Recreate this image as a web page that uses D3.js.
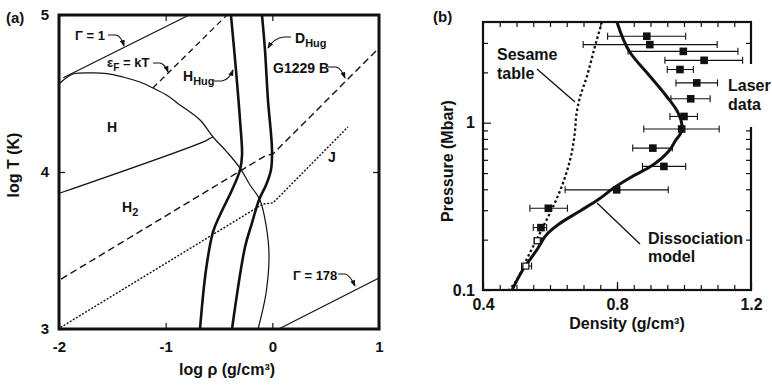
<!DOCTYPE html>
<html>
<head>
<meta charset="utf-8">
<script src="https://cdn.jsdelivr.net/npm/d3@7"></script>
<style>
  body { margin: 0; background: #fff; }
  text { font-family: "Liberation Sans", Arial, Helvetica, sans-serif; font-weight: bold; fill: #111; }
</style>
</head>
<body>
<svg id="fig" width="772" height="386"></svg>
<script>
// ---- panel (a): log rho (g/cm3) vs log T (K) ----
var gamma1   = [[-1.96, 4.60], [-0.78, 5.0]];
var gamma178 = [[0.06, 3.0], [1.0, 3.325]];
var fermi    = [[-1.12, 4.535], [-0.425, 5.0]];
var dissocH  = [[-1.99, 4.567], [-1.934, 4.599], [-1.869, 4.624], [-1.709, 4.631], [-1.55, 4.627],
                [-1.40, 4.605], [-1.241, 4.573], [-1.119, 4.535], [-0.978, 4.484], [-0.866, 4.427],
                [-0.678, 4.331], [-0.556, 4.223], [-0.425, 4.127], [-0.303, 4.025], [-0.209, 3.917],
                [-0.116, 3.822], [-0.059, 3.662], [-0.031, 3.471], [-0.059, 3.229], [-0.134, 3.0]];
var h2Line   = [[-1.99, 3.866], [-0.62, 4.20], [-0.585, 4.215], [-0.556, 4.223]];
var g1229b   = [[-1.98, 3.318], [-0.069, 4.102], [0.006, 4.115], [0.981, 4.777]];
var modelJ   = [[-1.985, 3.01], [-0.088, 3.796], [0.006, 3.803], [0.709, 4.287]];
var hHug     = [[-0.388, 5.0], [-0.341, 4.65], [-0.303, 4.331], [-0.284, 4.108], [-0.303, 4.013],
                [-0.378, 3.885], [-0.491, 3.726], [-0.556, 3.618], [-0.622, 3.376], [-0.678, 3.0]];
var dHug     = [[-0.097, 5.0], [-0.069, 4.777], [-0.041, 4.459], [-0.003, 4.14], [-0.013, 4.013],
                [-0.059, 3.917], [-0.125, 3.822], [-0.191, 3.675], [-0.256, 3.522], [-0.378, 3.0]];
var xTicksA = [-2, -1, 0, 1];
var yTicksA = [3, 4, 5];

// ---- panel (b): density (g/cm3) vs pressure (Mbar) ----
var laserRho = [0.889, 0.898, 0.998, 1.06, 0.988, 1.038, 1.02, 1.0, 0.993, 0.907, 0.94, 0.799, 0.595, 0.573, 0.562, 0.528];
var laserP   = [3.29, 2.93, 2.67, 2.36, 2.08, 1.73, 1.39, 1.09, 0.917, 0.705, 0.548, 0.397, 0.308, 0.236, 0.197, 0.139];
var laserLo  = [0.772, 0.699, 0.833, 0.943, 0.95, 0.976, 0.961, 0.958, 0.88, 0.847, 0.876, 0.645, 0.54, 0.55, 0.553, 0.515];
var laserHi  = [1.005, 1.099, 1.161, 1.175, 1.028, 1.1, 1.078, 1.04, 1.105, 0.965, 1.005, 0.953, 0.652, 0.59, 0.575, 0.545];
var openMarks = [14, 15];
var sesameRho = [0.755, 0.734, 0.71, 0.69, 0.678, 0.675, 0.66, 0.639, 0.609, 0.579, 0.555, 0.525, 0.501, 0.478];
var sesameP   = [4.0, 2.85, 1.89, 1.43, 1.09, 0.908, 0.6, 0.437, 0.314, 0.238, 0.191, 0.145, 0.115, 0.1];
var modelRho  = [0.8, 0.839, 0.899, 0.949, 0.982, 0.994, 0.991, 0.976, 0.958, 0.899, 0.839, 0.791, 0.743, 0.69, 0.627, 0.594, 0.561, 0.519, 0.487];
var modelP    = [4.0, 2.63, 1.89, 1.43, 1.15, 0.946, 0.871, 0.791, 0.689, 0.545, 0.469, 0.408, 0.346, 0.297, 0.248, 0.219, 0.174, 0.132, 0.1];
var xMajorB = [0.4, 0.8, 1.2];
var xMinorB = d3.range(9, 24).map(function(i) { return i / 20; });
var yMajorB = [0.1, 1];
var yMinorB = [0.2, 0.3, 0.4, 0.5, 0.6, 0.7, 0.8, 0.9, 2, 3];

var FONT = '"Liberation Sans", Arial, Helvetica, sans-serif';
var svg = d3.select("#fig");

svg.append("defs").append("marker")
  .attr("id", "arr")
  .attr("viewBox", "0 0 8 6")
  .attr("refX", 7).attr("refY", 3)
  .attr("markerWidth", 7).attr("markerHeight", 5)
  .attr("markerUnits", "userSpaceOnUse")
  .attr("orient", "auto")
  .append("path").attr("d", "M0,0L8,3L0,6z").attr("fill", "#111");

function styleAxis(g, size) {
  g.select(".domain").remove();
  g.attr("font-family", FONT).attr("font-size", size).attr("font-weight", "bold");
  g.selectAll("line").attr("stroke", "#111").attr("stroke-width", 1.2);
}

// ================= panel (a) =================
var xA = d3.scaleLinear().domain([-2, 1]).range([59, 379]);
var yA = d3.scaleLinear().domain([3, 5]).range([329, 15]);
var lineA = d3.line().x(function(d) { return xA(d[0]); }).y(function(d) { return yA(d[1]); });
var smoothA = d3.line().x(function(d) { return xA(d[0]); }).y(function(d) { return yA(d[1]); })
  .curve(d3.curveCatmullRom.alpha(0.5));

var pa = svg.append("g");

pa.append("g").attr("transform", "translate(0,329)")
  .call(d3.axisBottom(xA).tickValues(xTicksA).tickSize(-6).tickPadding(12).tickFormat(function(d) { return String(d); }))
  .call(styleAxis, 15);
pa.append("g").attr("transform", "translate(0,15)")
  .call(d3.axisTop(xA).tickValues([-1, 0]).tickSize(-6).tickFormat(""))
  .call(styleAxis, 15);
pa.append("g").attr("transform", "translate(59,0)")
  .call(d3.axisLeft(yA).tickValues(yTicksA).tickSize(-6).tickPadding(10).tickFormat(function(d) { return String(d); }))
  .call(styleAxis, 15);
pa.append("g").attr("transform", "translate(379,0)")
  .call(d3.axisRight(yA).tickValues([4]).tickSize(-6).tickFormat(""))
  .call(styleAxis, 15);

function curveA(data, gen, w, dash) {
  pa.append("path").datum(data).attr("d", gen)
    .attr("fill", "none").attr("stroke", "#111")
    .attr("stroke-width", w).attr("stroke-dasharray", dash || null)
    .attr("stroke-linejoin", "round");
}
curveA(gamma1, lineA, 1.2);
curveA(gamma178, lineA, 1.2);
curveA(dissocH, smoothA, 1.2);
curveA(h2Line, smoothA, 1.2);
curveA(fermi, lineA, 1.3, "6,4");
curveA(g1229b, lineA, 1.4, "7,4");
curveA(modelJ, lineA, 1.4, "2,1.6");
curveA(hHug, smoothA, 2.6);
curveA(dHug, smoothA, 2.6);

pa.append("rect").attr("x", 59).attr("y", 15).attr("width", 320).attr("height", 314)
  .attr("fill", "none").attr("stroke", "#111").attr("stroke-width", 3);

// labels and leaders
function label(g, x, y, txt, size, sub) {
  var t = g.append("text").attr("x", x).attr("y", y).attr("font-size", size).text(txt);
  if (sub) {
    t.append("tspan").attr("font-size", size * 0.78).attr("dy", size * 0.3).text(sub[0]);
    if (sub[1]) t.append("tspan").attr("dy", -size * 0.3).text(sub[1]);
  }
  return t;
}
label(pa, 75, 40, "\u0393 = 1", 13);
label(pa, 107, 67, "\u03b5", 13, ["F", " = kT"]);
label(pa, 183, 81, "H", 14, ["Hug"]);
label(pa, 295, 43, "D", 14, ["Hug"]);
label(pa, 273, 73, "G1229 B", 14);
label(pa, 107, 132, "H", 14);
label(pa, 122, 212, "H", 14, ["2"]);
label(pa, 328, 162, "J", 14);
label(pa, 293, 280, "\u0393 = 178", 13);

var leaders = [
  "M108,35L116,35Q121,36 124,46",
  "M153,63L160,63Q165,64 168,72",
  "M214,81L222,81Q229,80 233,70",
  "M291,37L284,37Q274,38 268,48",
  "M328,67L336,67Q341,68 345,78",
  "M338,274L345,274Q350,275 355,286"
];
pa.selectAll("path.lead").data(leaders).enter().append("path")
  .attr("class", "lead").attr("d", function(d) { return d; })
  .attr("fill", "none").attr("stroke", "#111").attr("stroke-width", 1.1)
  .attr("marker-end", "url(#arr)");

label(pa, 6, 23, "(a)", 15);
pa.append("text").attr("x", 227).attr("y", 375).attr("text-anchor", "middle").attr("font-size", 16)
  .text("log \u03c1 (g/cm\u00b3)");
pa.append("text").attr("transform", "translate(19,165) rotate(-90)").attr("text-anchor", "middle")
  .attr("font-size", 16).text("log T (K)");

// ================= panel (b) =================
var xB = d3.scaleLinear().domain([0.4, 1.2]).range([483, 751]);
var yB = d3.scaleLog().domain([0.1, 4]).range([290, 22]);
var pb = svg.append("g");

pb.append("g").attr("transform", "translate(0,290)")
  .call(d3.axisBottom(xB).tickValues(xMinorB).tickSize(-5).tickFormat(""))
  .call(styleAxis, 16);
pb.append("g").attr("transform", "translate(0,290)")
  .call(d3.axisBottom(xB).tickValues(xMajorB).tickSize(-8).tickPadding(9).tickFormat(d3.format(".1f")))
  .call(styleAxis, 16);
pb.append("g").attr("transform", "translate(0,22)")
  .call(d3.axisTop(xB).tickValues(xMinorB).tickSize(-5).tickFormat(""))
  .call(styleAxis, 16);
pb.append("g").attr("transform", "translate(483,0)")
  .call(d3.axisLeft(yB).tickValues(yMinorB).tickSize(-5).tickFormat(""))
  .call(styleAxis, 16);
pb.append("g").attr("transform", "translate(483,0)")
  .call(d3.axisLeft(yB).tickValues(yMajorB).tickSize(-8).tickPadding(8).tickFormat(function(d) { return String(d); }))
  .call(styleAxis, 16);
pb.append("g").attr("transform", "translate(751,0)")
  .call(d3.axisRight(yB).tickValues(yMinorB).tickSize(-5).tickFormat(""))
  .call(styleAxis, 16);

pb.append("rect").attr("x", 483).attr("y", 22).attr("width", 268).attr("height", 268)
  .attr("fill", "none").attr("stroke", "#111").attr("stroke-width", 2.2);

// curves
var sesame = sesameRho.map(function(d, i) { return [d, sesameP[i]]; });
var model = modelRho.map(function(d, i) { return [d, modelP[i]]; });
var lineB = d3.line().x(function(d) { return xB(d[0]); }).y(function(d) { return yB(d[1]); })
  .curve(d3.curveMonotoneY);
pb.append("path").datum(sesame).attr("d", lineB).attr("fill", "none")
  .attr("stroke", "#111").attr("stroke-width", 2.3).attr("stroke-dasharray", "2.5,2.5");
pb.append("path").datum(model).attr("d", lineB).attr("fill", "none")
  .attr("stroke", "#111").attr("stroke-width", 3);

// laser data with error bars
var pts = laserRho.map(function(d, i) {
  return { rho: d, p: laserP[i], lo: laserLo[i], hi: laserHi[i], open: openMarks.indexOf(i) >= 0 };
});
var eb = pb.selectAll("g.pt").data(pts).enter().append("g").attr("class", "pt");
eb.append("line")
  .attr("x1", function(d) { return xB(d.lo); }).attr("x2", function(d) { return xB(d.hi); })
  .attr("y1", function(d) { return yB(d.p); }).attr("y2", function(d) { return yB(d.p); })
  .attr("stroke", "#111").attr("stroke-width", 1.1);
["lo", "hi"].forEach(function(k) {
  eb.append("line")
    .attr("x1", function(d) { return xB(d[k]); }).attr("x2", function(d) { return xB(d[k]); })
    .attr("y1", function(d) { return yB(d.p) - 3.5; }).attr("y2", function(d) { return yB(d.p) + 3.5; })
    .attr("stroke", "#111").attr("stroke-width", 1.1);
});
eb.append("rect")
  .attr("x", function(d) { return xB(d.rho) - (d.open ? 3 : 3.8); })
  .attr("y", function(d) { return yB(d.p) - (d.open ? 3 : 3.8); })
  .attr("width", function(d) { return d.open ? 6 : 7.6; })
  .attr("height", function(d) { return d.open ? 6 : 7.6; })
  .attr("fill", function(d) { return d.open ? "#fff" : "#111"; })
  .attr("stroke", "#111").attr("stroke-width", function(d) { return d.open ? 1.2 : 0; });

// annotations
pb.append("line").attr("x1", 537).attr("y1", 69).attr("x2", 575).attr("y2", 102)
  .attr("stroke", "#111").attr("stroke-width", 1.3);
pb.append("line").attr("x1", 640).attr("y1", 244).attr("x2", 597).attr("y2", 203)
  .attr("stroke", "#111").attr("stroke-width", 1.3);
pb.append("rect").attr("x", 725).attr("y", 64).attr("width", 47).attr("height", 63).attr("fill", "#fff");
label(pb, 497, 60, "Sesame", 16);
label(pb, 497, 79, "table", 16);
label(pb, 728, 91, "Laser", 16);
label(pb, 728, 110, "data", 16);
label(pb, 648, 244, "Dissociation", 16);
label(pb, 648, 262, "model", 16);

label(pb, 433, 22, "(b)", 15);
pb.append("text").attr("x", 627).attr("y", 329).attr("text-anchor", "middle").attr("font-size", 16)
  .text("Density (g/cm\u00b3)");
pb.append("text").attr("transform", "translate(453,161) rotate(-90)").attr("text-anchor", "middle")
  .attr("font-size", 16).text("Pressure (Mbar)");
</script>
</body>
</html>
